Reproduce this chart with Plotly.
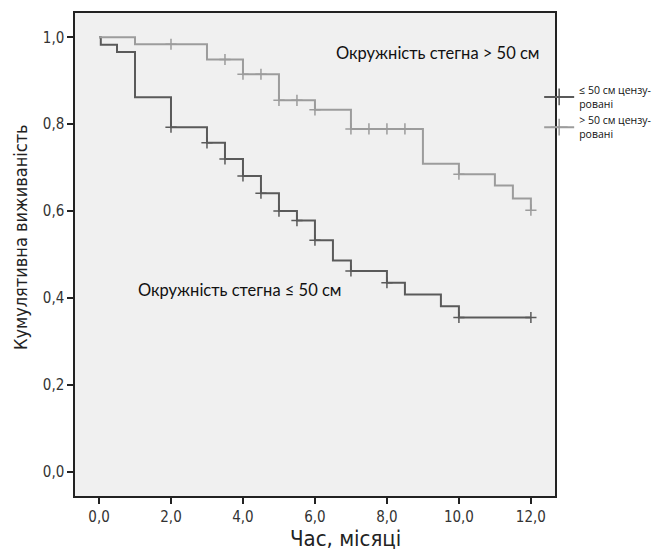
import plotly.graph_objects as go

# Kaplan-Meier step data (time in months, cumulative survival)
low_t = [0, 0.05, 0.5, 1.0, 2.0, 3.0, 3.5, 4.0, 4.5, 5.0, 5.5, 6.0, 6.5, 7.0, 8.0, 8.5, 9.5, 10.0, 12.0]
low_s = [1.0, 0.983, 0.966, 0.862, 0.793, 0.757, 0.720, 0.681, 0.641, 0.600, 0.578, 0.533, 0.486, 0.462, 0.435, 0.408, 0.381, 0.355, 0.355]
low_cens_t = [2.0, 3.0, 3.5, 4.0, 4.5, 5.0, 5.5, 6.0, 7.0, 8.0, 10.0, 12.0]
low_cens_s = [0.793, 0.757, 0.720, 0.681, 0.641, 0.600, 0.578, 0.533, 0.462, 0.435, 0.355, 0.355]

high_t = [0, 1.0, 3.0, 4.0, 5.0, 6.0, 7.0, 9.0, 10.0, 11.0, 11.5, 12.0]
high_s = [1.0, 0.984, 0.949, 0.915, 0.855, 0.833, 0.789, 0.709, 0.685, 0.659, 0.629, 0.602]
high_cens_t = [2.0, 3.5, 4.0, 4.5, 5.0, 5.5, 6.0, 7.0, 7.5, 8.0, 8.5, 10.0, 12.0]
high_cens_s = [0.984, 0.949, 0.915, 0.915, 0.855, 0.855, 0.833, 0.789, 0.789, 0.789, 0.789, 0.685, 0.602]

x_ticks = [0, 2, 4, 6, 8, 10, 12]
x_tick_labels = ["0,0", "2,0", "4,0", "6,0", "8,0", "10,0", "12,0"]
y_ticks = [0, 0.2, 0.4, 0.6, 0.8, 1.0]
y_tick_labels = ["0,0", "0,2", "0,4", "0,6", "0,8", "1,0"]

legend_low = "≤ 50 см цензу-<br>ровані"
legend_high = "> 50 см цензу-<br>ровані"
label_high = "Окружність стегна > 50 см"
label_low = "Окружність стегна ≤ 50 см"
x_title = "Час, місяці"
y_title = "Кумулятивна виживаність"

DARK = "#5a5a5a"
LIGHT = "#9c9c9c"
NARROW = "Liberation Sans Narrow, DejaVu Sans Condensed, Roboto, sans-serif"
LABELFONT = "Lato, Open Sans, sans-serif"

fig = go.Figure()

# step lines
fig.add_trace(go.Scatter(x=low_t, y=low_s, mode="lines", line=dict(color=DARK, width=2, shape="hv"),
                         showlegend=False, hoverinfo="skip"))
fig.add_trace(go.Scatter(x=high_t, y=high_s, mode="lines", line=dict(color=LIGHT, width=2, shape="hv"),
                         showlegend=False, hoverinfo="skip"))
# censor marks
fig.add_trace(go.Scatter(x=low_cens_t, y=low_cens_s, mode="markers",
                         marker=dict(symbol="cross-thin", size=8, line=dict(color=DARK, width=1.5)),
                         showlegend=False))
fig.add_trace(go.Scatter(x=high_cens_t, y=high_cens_s, mode="markers",
                         marker=dict(symbol="cross-thin", size=8, line=dict(color=LIGHT, width=1.5)),
                         showlegend=False))
# legend entries
fig.add_trace(go.Scatter(x=[None], y=[None], mode="lines+markers", name=legend_low,
                         line=dict(color=DARK, width=2),
                         marker=dict(symbol="cross-thin", size=12, line=dict(color=DARK, width=1.5))))
fig.add_trace(go.Scatter(x=[None], y=[None], mode="lines+markers", name=legend_high,
                         line=dict(color=LIGHT, width=2),
                         marker=dict(symbol="cross-thin", size=12, line=dict(color=LIGHT, width=1.5))))

fig.add_annotation(x=9.43, y=0.964, text=label_high, showarrow=False,
                   font=dict(family=LABELFONT, size=16.5, color="#111"))
fig.add_annotation(x=3.93, y=0.418, text=label_low, showarrow=False,
                   font=dict(family=LABELFONT, size=16.5, color="#111"))

# axis titles
fig.add_annotation(xref="paper", yref="paper", x=0.5625, y=-0.087, text=x_title, showarrow=False,
                   xanchor="center", yanchor="middle",
                   font=dict(family=NARROW, size=22, color="#222"))
fig.add_annotation(xref="paper", yref="paper", x=-0.1146, y=0.536, text=y_title, showarrow=False,
                   textangle=-90, xanchor="center", yanchor="middle",
                   font=dict(family=NARROW, size=18, color="#222"))

fig.update_layout(
    width=661, height=552,
    margin=dict(l=75, r=106, t=13, b=56, autoexpand=False),
    paper_bgcolor="white", plot_bgcolor="#f0f0f0",
    font=dict(family=NARROW, color="#333"),
    legend=dict(x=0.967, y=0.868, xanchor="left", yanchor="top",
                font=dict(family="Open Sans, sans-serif", size=10.5, color="#111"),
                bgcolor="rgba(0,0,0,0)", itemwidth=30, tracegroupgap=0),
    xaxis=dict(range=[-0.667, 12.67], tickvals=x_ticks, ticktext=x_tick_labels, automargin=False,
               showgrid=False, zeroline=False, showline=True, mirror=True,
               linecolor="#222", linewidth=1.5, ticks="outside", ticklen=6, tickwidth=1.5,
               tickcolor="#222", tickfont=dict(size=15, color="#333")),
    yaxis=dict(range=[-0.056, 1.056], tickvals=y_ticks, ticktext=y_tick_labels, automargin=False,
               showgrid=False, zeroline=False, showline=True, mirror=True,
               linecolor="#222", linewidth=1.5, ticks="outside", ticklen=6, tickwidth=1.5,
               tickcolor="#222", tickfont=dict(size=15, color="#333")),
)

fig.write_html("out.html", config={"displayModeBar": False},
               post_script="document.body.style.margin='0px';")
